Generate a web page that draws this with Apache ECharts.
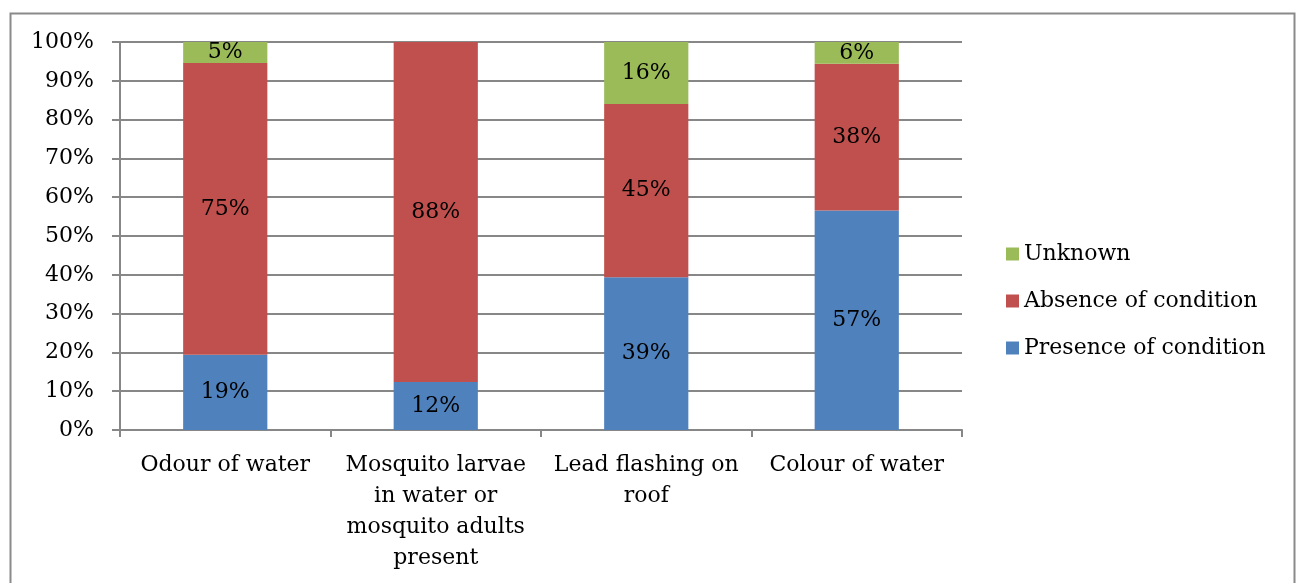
<!DOCTYPE html>
<html>
<head>
<meta charset="utf-8">
<script src="https://cdn.jsdelivr.net/npm/echarts@6/dist/echarts.min.js"></script>
<style>
  html, body { margin: 0; padding: 0; background: #fff; }
  #chart { width: 1296px; height: 583px; }
</style>
</head>
<body>
<div id="chart"></div>
<script>
// categories and stacked shares (percent of each bar)
var categories = ['Odour of water', 'Mosquito larvae\nin water or\nmosquito adults\npresent', 'Lead flashing on\nroof', 'Colour of water'];
var presence = [19.4, 12.4, 39.4, 56.6];
var absence = [75.2, 87.6, 44.6, 37.8];
var unknown = [5.4, 0, 16.0, 5.6];
var yTicks = [0, 10, 20, 30, 40, 50, 60, 70, 80, 90, 100];

var font = 'DejaVu Serif';
var gridColor = '#878787';

function seriesOf(name, data, color) {
  return {
    name: name,
    type: 'bar',
    stack: 'total',
    barWidth: '40%',
    data: data,
    itemStyle: { color: color },
    label: {
      show: true,
      position: 'inside',
      color: '#000',
      fontFamily: font,
      fontSize: 22,
      formatter: function (p) {
        return p.value >= 1 ? Math.round(p.value) + '%' : '';
      }
    }
  };
}

var myChart = echarts.init(document.getElementById('chart'));
myChart.setOption({
  animation: false,
  textStyle: { fontFamily: font },
  graphic: [{
    type: 'rect',
    shape: { x: 10.5, y: 13.5, width: 1284, height: 600 },
    style: { fill: 'none', stroke: '#8a8a8a', lineWidth: 2 },
    silent: true
  }],
  grid: { left: 120, right: 334, top: 42, bottom: 153 },
  legend: {
    orient: 'vertical',
    left: 1001,
    top: 238,
    itemWidth: 13,
    itemHeight: 13,
    itemGap: 25,
    icon: 'rect',
    textStyle: { fontFamily: font, fontSize: 22, color: '#000' },
    data: ['Unknown', 'Absence of condition', 'Presence of condition']
  },
  xAxis: {
    type: 'category',
    data: categories,
    axisLine: { lineStyle: { color: gridColor, width: 2 } },
    axisTick: { show: true, length: 7, lineStyle: { color: gridColor, width: 2 } },
    axisLabel: {
      interval: 0,
      margin: 20,
      color: '#000',
      fontFamily: font,
      fontSize: 22,
      lineHeight: 31
    }
  },
  yAxis: {
    type: 'value',
    min: 0,
    max: 100,
    interval: 10,
    axisLine: { show: true, lineStyle: { color: gridColor, width: 2 } },
    axisTick: { show: true, length: 8, lineStyle: { color: gridColor, width: 2 } },
    splitLine: { lineStyle: { color: gridColor, width: 2 } },
    axisLabel: {
      margin: 26,
      color: '#000',
      fontFamily: font,
      fontSize: 22,
      formatter: function (v) { return yTicks.indexOf(v) >= 0 ? v + '%' : ''; }
    }
  },
  series: [
    seriesOf('Presence of condition', presence, '#4F81BD'),
    seriesOf('Absence of condition', absence, '#C0504D'),
    seriesOf('Unknown', unknown, '#9BBB59')
  ]
});
</script>
</body>
</html>
